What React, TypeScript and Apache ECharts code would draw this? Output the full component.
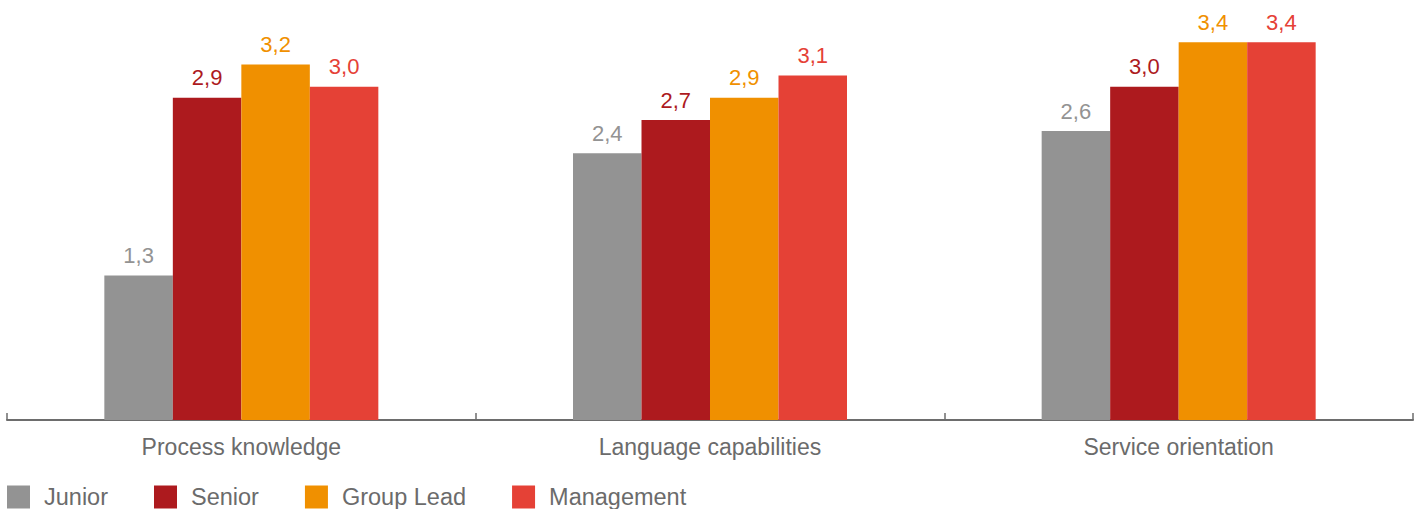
import React, { useEffect, useRef } from "react";
import * as echarts from "echarts";

const categories = ["Process knowledge", "Language capabilities", "Service orientation"];
const seriesNames = ["Junior", "Senior", "Group Lead", "Management"];
const junior = [1.3, 2.4, 2.6];
const senior = [2.9, 2.7, 3.0];
const groupLead = [3.2, 2.9, 3.4];
const management = [3.0, 3.1, 3.4];
const colors = ["#939393", "#ad1a1e", "#f09000", "#e54136"];

export default function App() {
  const ref = useRef<HTMLDivElement>(null);
  useEffect(() => {
    if (!ref.current) return;
    const chart = echarts.init(ref.current, null, { renderer: "svg" });
    const data = [junior, senior, groupLead, management];
    chart.setOption({
      animation: false,
      textStyle: { fontFamily: "Liberation Sans, Arial, sans-serif" },
      grid: { left: 7, right: 8, top: 20, bottom: 89, containLabel: false },
      legend: {
        left: 7,
        top: 485,
        padding: 0,
        itemWidth: 23,
        itemHeight: 23,
        itemGap: 46,
        icon: "rect",
        data: seriesNames,
        textStyle: { fontSize: 23.5, color: "#6b6b6b", padding: [0, 0, 0, 9] },
      },
      xAxis: {
        type: "category",
        data: categories,
        axisLine: { lineStyle: { color: "#6d6d6d", width: 2 } },
        axisTick: { show: true, inside: true, length: 7, lineStyle: { color: "#6d6d6d", width: 1.5 } },
        axisLabel: { fontSize: 23, color: "#6b6b6b", margin: 15 },
      },
      yAxis: {
        type: "value",
        min: 0,
        max: 3.6,
        show: false,
        splitLine: { show: false },
      },
      series: seriesNames.map((name, i) => ({
        name,
        type: "bar",
        data: data[i],
        barWidth: 68.5,
        barGap: "0%",
        itemStyle: { color: colors[i] },
        label: {
          show: true,
          position: "top",
          distance: 9,
          fontSize: 22,
          color: colors[i],
          formatter: (p: any) => p.value.toFixed(1).replace(".", ","),
        },
      })),
    });
    return () => chart.dispose();
  }, []);
  return <div ref={ref} style={{ width: 1421, height: 509, position: "absolute", left: 0, top: 0 }} />;
}
